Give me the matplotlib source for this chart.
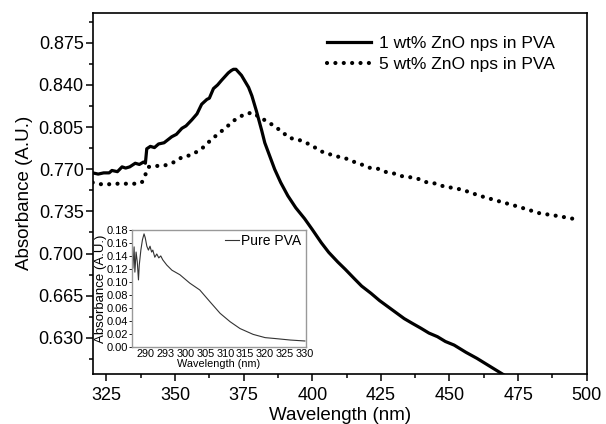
import matplotlib
matplotlib.use("Agg")
import matplotlib.pyplot as plt
from matplotlib.ticker import MultipleLocator

plt.rcParams['font.family'] = ['Liberation Sans', 'DejaVu Sans']

# 1 wt% ZnO nps in PVA (solid)
wl_1 = [320, 322, 324, 326, 327, 329, 330.7, 332, 333.5, 335.5, 337, 338.5, 339.2,
        339.7, 341, 342.5, 344, 346, 348.8, 350.5, 352.5, 354, 356.1, 358, 359.7,
        361.6, 362.5, 364, 365.5, 367, 368.2, 369.4, 370.5, 371.3, 372.2, 373,
        374.2, 375.5, 376.8, 378, 379.7, 381.6, 382.7, 384.5, 386.3, 388.5, 391.1,
        394, 397.2, 400, 403.3, 406, 409.3, 412, 415.4, 418, 421.4, 424.5, 427.5,
        430.5, 433.5, 436.5, 439.6, 442.5, 445.6, 448.5, 451.7, 456, 460, 465, 470, 473]
abs_1 = [0.767, 0.766, 0.767, 0.767, 0.769, 0.768, 0.772, 0.771, 0.772, 0.775, 0.774,
         0.776, 0.775, 0.787, 0.789, 0.788, 0.791, 0.792, 0.797, 0.799, 0.804, 0.806,
         0.811, 0.816, 0.824, 0.828, 0.829, 0.837, 0.840, 0.844, 0.847, 0.850, 0.852,
         0.853, 0.853, 0.851, 0.848, 0.843, 0.838, 0.831, 0.818, 0.802, 0.792, 0.781,
         0.770, 0.759, 0.748, 0.738, 0.729, 0.720, 0.709, 0.701, 0.693, 0.687, 0.679,
         0.673, 0.667, 0.661, 0.656, 0.651, 0.646, 0.642, 0.638, 0.634, 0.631, 0.627,
         0.624, 0.618, 0.613, 0.606, 0.599, 0.595]

# 5 wt% ZnO nps in PVA (dotted)
wl_5 = [320, 322, 324.6, 327, 329.5, 332, 334.3, 336, 337.9, 339.1, 340.4, 342, 344,
        346, 348.8, 350.5, 352.5, 356.1, 359.7, 363.4, 368.2, 371.8, 375.5, 378.3,
        380.6, 383.3, 386.1, 388.7, 391.7, 394.8, 397.8, 400.8, 403.9, 406.6, 409.5,
        412.4, 415.4, 417.8, 420.8, 423.8, 426.9, 429.9, 432.3, 435.4, 438.4, 441.4,
        444.5, 447.5, 450.5, 454.7, 461, 468.7, 475, 482.8, 490, 497.2]
abs_5 = [0.759, 0.758, 0.757, 0.758, 0.758, 0.758, 0.758, 0.758, 0.759, 0.765, 0.772,
         0.772, 0.773, 0.773, 0.775, 0.777, 0.780, 0.782, 0.787, 0.795, 0.804, 0.811,
         0.816, 0.817, 0.8135, 0.810, 0.806, 0.8016, 0.796, 0.7947, 0.792, 0.7883,
         0.7842, 0.7823, 0.7804, 0.7788, 0.776, 0.7741, 0.7713, 0.7705, 0.7677,
         0.7664, 0.7644, 0.7635, 0.7622, 0.7594, 0.7583, 0.7561, 0.7548, 0.753,
         0.748, 0.743, 0.739, 0.7335, 0.731, 0.728]

# inset: pure PVA
wl_pva = [286.6, 286.8, 287.1, 287.3, 287.6, 287.9, 288.2, 288.4, 288.8, 289.2, 289.6,
          289.9, 290.3, 290.7, 291.1, 291.5, 291.8, 292.3, 292.8, 293.3, 293.8, 294.3,
          295.3, 296.6, 298.6, 301.1, 303.6, 306.2, 308.7, 311.2, 313.7, 317, 320,
          322.5, 326.3, 330]
abs_pva = [0.151, 0.121, 0.154, 0.115, 0.146, 0.131, 0.103, 0.126, 0.149, 0.165, 0.174,
           0.168, 0.155, 0.149, 0.155, 0.146, 0.149, 0.138, 0.143, 0.137, 0.140, 0.134,
           0.126, 0.118, 0.111, 0.098, 0.0875, 0.069, 0.0515, 0.0386, 0.028, 0.019,
           0.014, 0.0126, 0.0103, 0.0088]
inset_xticks = [290, 295, 300, 305, 310, 315, 320, 325, 330]
inset_xlabels = ['290', '293', '300', '305', '310', '315', '320', '325', '330']

fig = plt.figure(figsize=(6.06, 4.24), dpi=100)
ax = fig.add_axes([92.7 / 606, 50 / 424, 494 / 606, 361.3 / 424])

ax.plot(wl_1, abs_1, color='black', lw=2.3, label='1 wt% ZnO nps in PVA')
ax.plot(wl_5, abs_5, color='black', lw=3.0, linestyle=(0, (0.01, 2.0)),
        dash_capstyle='round', label='5 wt% ZnO nps in PVA')

ax.set_xlim(320, 500)
ax.set_ylim(0.600, 0.900)
ax.set_xticks([325, 350, 375, 400, 425, 450, 475, 500])
ax.set_yticks([0.630, 0.665, 0.700, 0.735, 0.770, 0.805, 0.840, 0.875])
ax.xaxis.set_minor_locator(MultipleLocator(12.5))
ax.yaxis.set_minor_locator(MultipleLocator(0.0175))
ax.tick_params(which='major', direction='out', length=5, width=1.1, labelsize=13)
ax.tick_params(which='minor', direction='out', length=3, width=1.1)
ax.tick_params(axis='x', which='major', pad=4)
ax.tick_params(axis='y', which='major', pad=1.5)
ax.tick_params(top=False, right=False)
for s in ax.spines.values():
    s.set_linewidth(1.2)
ax.set_xlabel('Wavelength (nm)', fontsize=13.5, labelpad=2.5)
ax.set_ylabel('Absorbance (A.U.)', fontsize=13.5, labelpad=4)

ax.legend(loc='upper left', bbox_to_anchor=(0.475, 0.935), frameon=False,
          fontsize=12.5, handlelength=2.5, handletextpad=0.5, labelspacing=0.3,
          borderpad=0, borderaxespad=0)

# inset
ins = fig.add_axes([131.7 / 606, (424 - 346.7) / 424, 174 / 606, 116.7 / 424])
ins.plot(wl_pva, abs_pva, color='#333333', lw=0.8, label='Pure PVA')
ins.set_xlim(286.5, 330.2)
ins.set_ylim(0, 0.18)
ins.set_xticks(inset_xticks)
ins.set_xticklabels(inset_xlabels)
ins.yaxis.set_major_locator(MultipleLocator(0.02))
ins.yaxis.set_major_formatter(plt.FormatStrFormatter('%.2f'))
ins.tick_params(axis='x', length=0, labelsize=7.8, pad=2)
ins.tick_params(axis='y', direction='out', length=2, width=0.6, labelsize=8, pad=0.5)
for s in ins.spines.values():
    s.set_color('#999999')
    s.set_linewidth(1)
ins.set_xlabel('Wavelength (nm)', fontsize=7.8, labelpad=0)
ins.set_ylabel('Absorbance (A.U.)', fontsize=9.5, labelpad=0)
ins.legend(loc='upper right', frameon=False, fontsize=10, handlelength=1.0,
           handletextpad=0.15, borderpad=0.1, borderaxespad=0.2)

fig.savefig('out.png', dpi=100)
